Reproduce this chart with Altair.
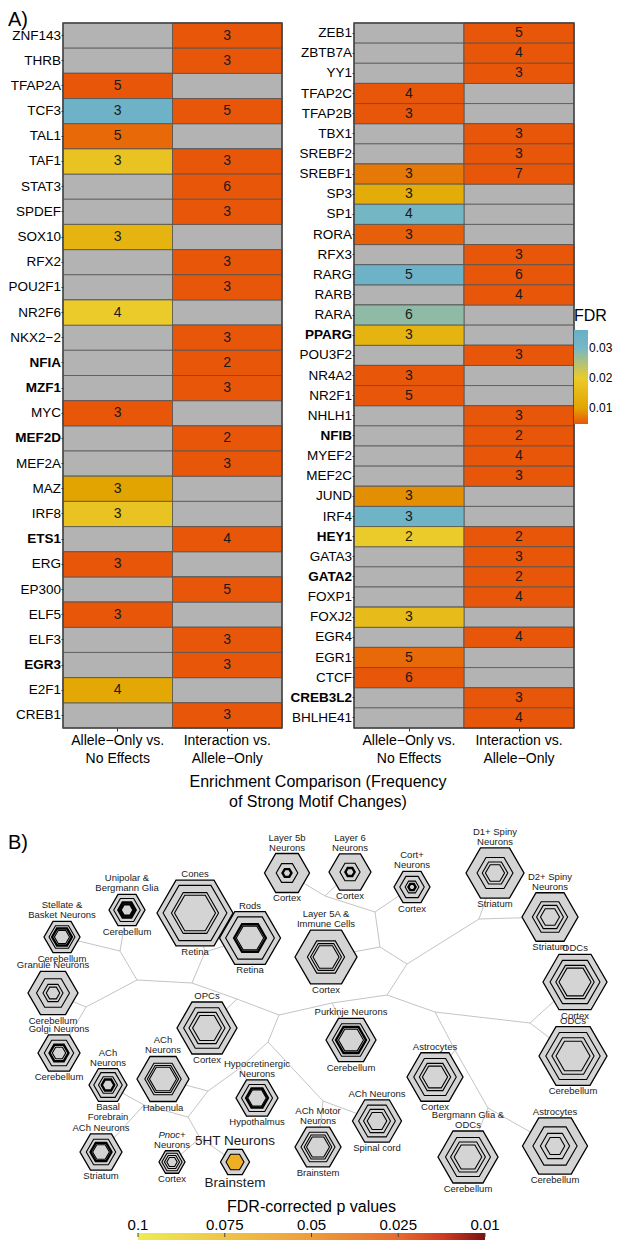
import altair as alt
import pandas as pd

FONT = "Liberation Sans"
M = "\u2212"
_ = None
O = 0.0047

# ---------------- Part A data ----------------
comp_labels = [f"Allele{M}Only vs.|No Effects", f"Interaction vs.|Allele{M}Only"]
x_title = ["Enrichment Comparison (Frequency", "of Strong Motif Changes)"]

left_tfs = ["ZNF143", "THRB", "TFAP2A", "TCF3", "TAL1", "TAF1", "STAT3", "SPDEF", "SOX10", "RFX2",
            "POU2F1", "NR2F6", f"NKX2{M}2", "NFIA", "MZF1", "MYC", "MEF2D", "MEF2A", "MAZ", "IRF8",
            "ETS1", "ERG", "EP300", "ELF5", "ELF3", "EGR3", "E2F1", "CREB1"]
left_a_count = [_, _, 5, 3, 5, 3, _, _, 3, _, _, 4, _, _, _, 3, _, _, 3, 3, _, 3, _, 3, _, _, 4, _]
left_a_fdr = [_, _, O, 0.034, 0.006, 0.018, _, _, 0.014, _, _, 0.020, _, _, _, O, _, _, 0.010, 0.018,
              _, O, _, O, _, _, 0.011, _]
left_b_count = [3, 3, _, 5, _, 3, 6, 3, _, 3, 3, _, 3, 2, 3, _, 2, 3, _, _, 4, _, 5, _, 3, 3, _, 3]
left_b_fdr = [O, O, _, O, _, O, O, O, _, O, O, _, O, O, O, _, O, O, _, _, O, _, O, _, O, O, _, O]

right_tfs = ["ZEB1", "ZBTB7A", "YY1", "TFAP2C", "TFAP2B", "TBX1", "SREBF2", "SREBF1", "SP3", "SP1",
             "RORA", "RFX3", "RARG", "RARB", "RARA", "PPARG", "POU3F2", "NR4A2", "NR2F1", "NHLH1",
             "NFIB", "MYEF2", "MEF2C", "JUND", "IRF4", "HEY1", "GATA3", "GATA2", "FOXP1", "FOXJ2",
             "EGR4", "EGR1", "CTCF", "CREB3L2", "BHLHE41"]
right_a_count = [_, _, _, 4, 3, _, _, 3, 3, 4, 3, _, 5, _, 6, 3, _, 3, 5, _, _, _, _, 3, 3, 2, _, _, _,
                 3, _, 5, 6, _, _]
right_a_fdr = [_, _, _, O, O, _, _, 0.007, 0.012, 0.031, 0.0053, _, 0.034, _, 0.028, 0.014, _, O, O, _,
               _, _, _, 0.0085, 0.033, 0.020, _, _, _, 0.016, _, 0.006, O, _, _]
right_b_count = [5, 4, 3, _, _, 3, 3, 7, _, _, _, 3, 6, 4, _, _, 3, _, _, 3, 2, 4, 3, _, _, 2, 3, 2, 4,
                 _, 4, _, _, 3, 4]
right_b_fdr = [O, O, O, _, _, O, O, O, _, _, _, O, O, O, _, _, O, _, _, O, O, O, O, _, _, O, O, O, O,
               _, O, _, _, O, O]

bold_tfs = ["NFIA", "MZF1", "MEF2D", "ETS1", "EGR3", "PPARG", "NFIB", "HEY1", "GATA2", "CREB3L2"]

fdr_stops = [0.0047, 0.01, 0.02, 0.03, 0.036]
fdr_colors = ["#E8560A", "#E2A400", "#EBCB2A", "#78B7C5", "#67AFC6"]

# ---------------- Part B data ----------------
node_ids = ["st", "un", "co", "ro", "l5b", "l6", "cort", "d1", "d2", "l5a", "gr", "go", "opc", "odc1",
            "odc2", "pk", "achb", "hab", "hyp", "ast1", "achs", "pnoc", "ht", "achm", "achsp", "berg",
            "ast2"]
node_x = [62, 127, 195, 250, 287, 350, 412, 495, 550, 326, 53, 59, 207, 575, 573, 351, 108, 163, 257,
          435, 101, 172, 235, 318, 377, 468, 555]
node_y = [937, 910, 913, 938, 873, 872, 887, 873, 917, 957, 993, 1053, 1028, 982, 1056, 1040, 1085,
          1079, 1098, 1077, 1152, 1162, 1162, 1147, 1121, 1157, 1146]
node_hw = [18, 18, 38, 30.5, 22.5, 21, 18, 29, 28, 31, 25, 21, 30, 32, 34, 25, 19, 26, 21, 28, 21, 13,
           14.5, 23, 24.5, 30, 32.5]
node_top = ["Stellate &\nBasket Neurons", "Unipolar &\nBergmann Glia", "Cones", "Rods",
            "Layer 5b\nNeurons", "Layer 6\nNeurons", "Cort+\nNeurons", "D1+ Spiny\nNeurons",
            "D2+ Spiny\nNeurons", "Layer 5A &\nImmune Cells", "Granule Neurons", "Golgi Neurons",
            "OPCs", "ODCs", "ODCs", "Purkinje Neurons", "ACh\nNeurons", "ACh\nNeurons",
            "Hypocretinergic\nNeurons", "Astrocytes", "ACh Neurons", "Neurons", "5HT Neurons",
            "ACh Motor\nNeurons", "ACh Neurons", "Bergmann Glia &\nODCs", "Astrocytes"]
node_bottom = ["Cerebellum", "Cerebellum", "Retina", "Retina", "Cortex", "Cortex", "Cortex", "Striatum",
               "Striatum", "Cortex", "Cerebellum", "Cerebellum", "Cortex", "Cortex", "Cerebellum",
               "Cerebellum", "Basal\nForebrain", "Habenula", "Hypothalmus", "Cortex", "Striatum",
               "Cortex", "Brainstem", "Brainstem", "Spinal cord", "Cerebellum", "Cerebellum"]
node_fs = [9.5] * 22 + [13.5] + [9.5] * 4
node_rings = [[0.72, 0.55, 0.42], [0.74, 0.48, 0.36], [0.84, 0.62, 0.54], [0.8, 0.52, 0.45],
              [0.48, 0.2], [0.48, 0.22], [0.68, 0.38, 0.2], [0.62, 0.44, 0.33], [0.63, 0.48, 0.34],
              [0.6, 0.5, 0.42], [0.66, 0.4, 0.27], [0.7, 0.45, 0.32], [0.78, 0.6, 0.48],
              [0.78, 0.6, 0.5], [0.8, 0.62, 0.5], [0.75, 0.6, 0.5], [0.75, 0.5, 0.33],
              [0.7, 0.6, 0.52], [0.74, 0.52, 0.44], [0.76, 0.56, 0.45], [0.7, 0.5, 0.4],
              [0.78, 0.58, 0.4], [0.62], [0.74, 0.6, 0.5], [0.75, 0.55, 0.4], [0.75, 0.58, 0.46],
              [0.68, 0.45, 0.3]]
node_ring_bold = [[0, 1, 0], [0, 1, 1], [0, 0, 0], [0, 1, 0], [0, 1], [0, 1], [0, 0, 1], [0, 0, 0],
                  [0, 0, 0], [0, 0, 0], [0, 0, 0], [0, 1, 0], [0, 0, 0], [0, 0, 0], [0, 0, 0], [0, 1, 0],
                  [0, 0, 1], [0, 0, 0], [0, 1, 0], [0, 0, 0], [0, 1, 0], [0, 0, 0], [0], [0, 0, 0],
                  [0, 0, 0], [0, 0, 0], [0, 0, 0]]
italic_ids = ["pnoc"]
italic_text = ["Pnoc+"]
sig_ids = ["ht"]
sig_fdr = [0.06]
sig_frac = [0.62]

inner_ids = ["n1", "n2", "n3", "n4", "n5", "n6", "n7", "n8", "n9", "n10", "n11", "n12", "n13", "n14",
             "n15", "n16", "n17", "n18", "n19", "n20", "n21", "n22", "n23", "n24", "n25"]
inner_x = [120, 137, 86, 192, 205, 237, 279, 332, 387, 407, 380, 375, 325, 479, 435, 530, 455, 488,
           268, 323, 240, 208, 188, 144, 200]
inner_y = [951, 980, 1007, 983, 952, 999, 1015, 1003, 995, 964, 947, 912, 896, 919, 1012, 1023, 1050,
           1108, 1042, 1101, 1068, 1091, 1117, 1105, 1138]
edges = [("n1", "st"), ("n1", "un"), ("n1", "n2"), ("n2", "n3"), ("n3", "gr"), ("n3", "go"),
         ("n2", "n4"), ("n4", "n5"), ("n5", "co"), ("n5", "ro"), ("n4", "n6"), ("n6", "opc"),
         ("n6", "n7"), ("n7", "n8"), ("n8", "pk"), ("n8", "n9"), ("n9", "n10"), ("n10", "n11"),
         ("n11", "l5a"), ("n11", "n12"), ("n12", "cort"), ("n12", "n13"), ("n13", "l5b"),
         ("n13", "l6"), ("n10", "n14"), ("n14", "d1"), ("n14", "d2"), ("n9", "n15"), ("n15", "n16"),
         ("n16", "odc1"), ("n16", "odc2"), ("n15", "n17"), ("n17", "ast1"), ("n17", "n18"),
         ("n18", "berg"), ("n18", "ast2"), ("n7", "n19"), ("n19", "n20"), ("n20", "achm"),
         ("n20", "achsp"), ("n19", "n21"), ("n21", "hyp"), ("n21", "n22"), ("n22", "hab"),
         ("n22", "n23"), ("n23", "n24"), ("n24", "achb"), ("n24", "achs"), ("n23", "n25"),
         ("n25", "pnoc"), ("n25", "ht")]

cb_ticks = ["0.1", "0.075", "0.05", "0.025", "0.01"]
cb_tick_values = [0.1, 0.075, 0.05, 0.025, 0.01]
cb_colors = ["#EDEC55", "#EEC447", "#EE9C3C", "#E86A2C", "#CF3A22", "#7A1212"]
cb_offsets = [0, 0.25, 0.5, 0.75, 0.88, 1]

# ---------------- layout (pixels) ----------------
PADL, PADT = 55, 15
X0 = 8 + PADL            # page x of the plot origin
Y0 = 8 + PADT            # page y of the plot origin
PW = 282 - X0            # left panel width
PH = 705                 # panel height
RX = [354 - X0, 574 - X0]  # right panel x range
BH = 505                 # height of part B region below panels
TOTAL_W, TOTAL_H = 608, 1232
PADR = TOTAL_W - PADL - PW
PADB = TOTAL_H - PADT - PH
LINE = 10                # line height of the small labels in part B

# ---------------- Part A charts ----------------
def panel_df(tfs, a_cnt, a_fdr, b_cnt, b_fdr):
    rows = []
    for i, tf in enumerate(tfs):
        rows.append(dict(tf=tf, comp=comp_labels[0], count=a_cnt[i], fdr=a_fdr[i]))
        rows.append(dict(tf=tf, comp=comp_labels[1], count=b_cnt[i], fdr=b_fdr[i]))
    return pd.DataFrame(rows)


bold_expr = "indexof([" + ",".join("'%s'" % b for b in bold_tfs) + "], datum.value) >= 0 ? 'bold' : 'normal'"
fdr_scale = alt.Scale(domain=fdr_stops, range=fdr_colors, interpolate="rgb")


def heat(df, tfs, legend, xrange=None, yoffset=0):
    xsc = alt.Scale(paddingInner=0, paddingOuter=0)
    if xrange is not None:
        xsc = alt.Scale(paddingInner=0, paddingOuter=0, range=xrange)
    y = alt.Y("tf:N", sort=tfs, title=None, scale=alt.Scale(paddingInner=0, paddingOuter=0),
              axis=alt.Axis(orient="left", offset=yoffset, labelFontSize=13.5,
                            labelFontWeight={"expr": bold_expr}, labelColor="black",
                            tickSize=2, tickColor="#333333", labelPadding=0.5, domain=False,
                            labelFont=FONT))
    x = alt.X("comp:N", sort=comp_labels, title=None, scale=xsc,
              axis=alt.Axis(orient="bottom", labelExpr="split(datum.label, '|')", labelAngle=0,
                            labelFontSize=14, labelLineHeight=18, labelColor="black", tickSize=3,
                            tickColor="#333333", labelPadding=2, domain=False, labelFont=FONT))
    base = alt.Chart(df)
    gray = base.mark_rect(fill="#b3b3b3", stroke="#555555", strokeWidth=0.8).encode(x=x, y=y)
    col = base.transform_filter("isValid(datum.fdr)").mark_rect(
        stroke="#555555", strokeWidth=0.8).encode(
        x=x, y=y, color=alt.Color("fdr:Q", scale=fdr_scale, legend=legend))
    txt = base.transform_filter("isValid(datum.count)").mark_text(
        fontSize=14, font=FONT, color="#1a1a1a").encode(
        x=x, y=y, text=alt.Text("count:Q", format="d"))
    x0 = 0 if xrange is None else xrange[0]
    x1 = PW if xrange is None else xrange[1]
    frame = alt.Chart(pd.DataFrame({"f": [0]})).mark_rect(
        fillOpacity=0, stroke="#444444", strokeWidth=1.5).encode(
        x=alt.value(x0), x2=alt.value(x1), y=alt.value(0), y2=alt.value(PH))
    return alt.layer(gray, col, txt, frame)


left_heat = heat(panel_df(left_tfs, left_a_count, left_a_fdr, left_b_count, left_b_fdr), left_tfs, None)
fdr_legend = alt.Legend(title="FDR", orient="none", legendX=RX[1], legendY=285,
                        direction="vertical", gradientLength=94, gradientThickness=14,
                        values=[0.01, 0.02, 0.03], format=".2f", titleFontSize=16,
                        titleFontWeight="normal", titleColor="black", labelFontSize=12,
                        labelColor="black", labelOffset=1, titlePadding=6, gradientStrokeWidth=0,
                        titleFont=FONT, labelFont=FONT, padding=0)
right_heat = heat(panel_df(right_tfs, right_a_count, right_a_fdr, right_b_count, right_b_fdr),
                  right_tfs, fdr_legend, xrange=RX, yoffset=-RX[0])

tagA = alt.Chart(pd.DataFrame({"t": ["A)"]})).mark_text(
    align="left", baseline="top", fontSize=20, font=FONT, color="black").encode(
    x=alt.value(-PADL), y=alt.value(-PADT + 2), text="t:N")
xtitle = alt.Chart(pd.DataFrame({"t": ["\n".join(x_title)]})).mark_text(
    align="center", baseline="top", fontSize=16, lineHeight=20, lineBreak="\n", font=FONT,
    color="black").encode(x=alt.value(318 - X0), y=alt.value(PH + 46), text="t:N")

# ---------------- Part B ----------------
HEX = "M-1,0L-0.5,-0.866L0.5,-0.866L1,0L0.5,0.866L-0.5,0.866Z"
xs = alt.Scale(domain=[X0, X0 + 554], range=[0, 554], nice=False, zero=False)
ys = alt.Scale(domain=[Y0 + PH, Y0 + PH + BH], range=[PH, PH + BH], nice=False, zero=False)
pos = {}
for i, n in enumerate(node_ids):
    pos[n] = (node_x[i], node_y[i])
for i, n in enumerate(inner_ids):
    pos[n] = (inner_x[i], inner_y[i])

edge_df = pd.DataFrame([dict(x=pos[a][0], y=pos[a][1], x2=pos[b][0], y2=pos[b][1]) for a, b in edges])
node_df = pd.DataFrame(dict(id=node_ids, x=node_x, y=node_y, hw=node_hw, top=node_top,
                            bottom=node_bottom, fs=node_fs))
node_df["s"] = (2 * node_df["hw"]) ** 2
node_df["nl"] = node_df["top"].str.count("\n")
node_df["ytop"] = node_df["y"] - 0.866 * node_df["hw"] - 1 - LINE * node_df["nl"]
node_df["ybot"] = node_df["y"] + 0.866 * node_df["hw"] + 1

ring_rows = []
for i, n in enumerate(node_ids):
    for f, b in zip(node_rings[i], node_ring_bold[i]):
        ring_rows.append(dict(x=node_x[i], y=node_y[i], s=(2 * node_hw[i] * f) ** 2,
                              sw=2.4 if b else 1.1))
ring_df = pd.DataFrame(ring_rows)

sig_rows = []
for n, p, f in zip(sig_ids, sig_fdr, sig_frac):
    i = node_ids.index(n)
    sig_rows.append(dict(x=node_x[i], y=node_y[i], s=(2 * node_hw[i] * f) ** 2, p=p))
sig_df = pd.DataFrame(sig_rows)

ital_rows = []
for n, t in zip(italic_ids, italic_text):
    i = node_ids.index(n)
    ital_rows.append(dict(x=node_x[i], y=node_y[i] - 0.866 * node_hw[i] - 1 - LINE, t=t))
ital_df = pd.DataFrame(ital_rows)

X = alt.X("x:Q", scale=xs, axis=None)
Y = alt.Y("y:Q", scale=ys, axis=None)

edge_layer = alt.Chart(edge_df).mark_rule(color="#c4c4c4", strokeWidth=1).encode(
    x=X, y=Y, x2="x2:Q", y2="y2:Q")
outer_layer = alt.Chart(node_df).mark_point(
    shape=HEX, filled=True, fill="#d4d4d4", stroke="black", strokeWidth=1.3, opacity=1,
    fillOpacity=1).encode(x=X, y=Y, size=alt.Size("s:Q", scale=None))
sig_scale = alt.Scale(domain=cb_tick_values, range=["#EDEC55", "#EEC447", "#F0A000", "#E86A2C",
                                                    "#7A1212"])
sig_layer = alt.Chart(sig_df).mark_point(shape=HEX, filled=True, opacity=1, strokeWidth=0).encode(
    x=X, y=Y, size=alt.Size("s:Q", scale=None),
    color=alt.Color("p:Q", scale=sig_scale, legend=None))
ring_layer = alt.Chart(ring_df).mark_point(shape=HEX, filled=False, color="black", opacity=1).encode(
    x=X, y=Y, size=alt.Size("s:Q", scale=None), strokeWidth=alt.StrokeWidth("sw:Q", scale=None))
top_layer = alt.Chart(node_df).mark_text(
    baseline="bottom", lineBreak="\n", lineHeight=LINE, font=FONT, color="#1a1a1a").encode(
    x=X, y=alt.Y("ytop:Q", scale=ys, axis=None), text="top:N", size=alt.Size("fs:Q", scale=None))
bot_layer = alt.Chart(node_df).mark_text(
    baseline="top", lineBreak="\n", lineHeight=LINE, font=FONT, color="#1a1a1a").encode(
    x=X, y=alt.Y("ybot:Q", scale=ys, axis=None), text="bottom:N",
    size=alt.Size("fs:Q", scale=None))
ital_layer = alt.Chart(ital_df).mark_text(
    baseline="bottom", fontSize=9.5, fontStyle="italic", font=FONT, color="#1a1a1a").encode(
    x=X, y=Y, text="t:N")
tagB = alt.Chart(pd.DataFrame({"t": ["B)"]})).mark_text(
    align="left", baseline="middle", fontSize=20, font=FONT, color="black").encode(
    x=alt.value(-PADL), y=alt.value(843 - Y0), text="t:N")

partB = alt.layer(edge_layer, outer_layer, sig_layer, ring_layer, top_layer, bot_layer, ital_layer,
                  tagB).resolve_scale(size="independent")

# ---------------- Colour bar ----------------
cb_df = pd.DataFrame(dict(i=list(range(len(cb_ticks))), lab=cb_ticks))
cbx = alt.Scale(domain=[0, len(cb_ticks) - 1], range=[138 - X0, 485 - X0], nice=False, zero=False)
grad = {"gradient": "linear", "x1": 0, "x2": 1, "y1": 0, "y2": 0,
        "stops": [{"offset": o, "color": c} for o, c in zip(cb_offsets, cb_colors)]}
CBY = PH + BH
bar = alt.Chart(pd.DataFrame({"lo": [0], "hi": [len(cb_ticks) - 1]})).mark_rect(fill=grad).encode(
    x=alt.X("lo:Q", scale=cbx, axis=None), x2="hi:Q", y=alt.value(CBY), y2=alt.value(CBY + 8))
cb_tick = alt.Chart(cb_df).mark_rule(color="#444444", strokeWidth=1).encode(
    x=alt.X("i:Q", scale=cbx, axis=None), y=alt.value(CBY), y2=alt.value(CBY + 4))
cb_lab = alt.Chart(cb_df).mark_text(fontSize=15, baseline="middle", font=FONT, color="black").encode(
    x=alt.X("i:Q", scale=cbx, axis=None), y=alt.value(CBY - 8), text="lab:N")
cb_title = alt.Chart(pd.DataFrame({"i": [(len(cb_ticks) - 1) / 2], "t": ["FDR-corrected p values"]})
                     ).mark_text(fontSize=16, baseline="middle", font=FONT, color="black").encode(
    x=alt.X("i:Q", scale=cbx, axis=None), y=alt.value(CBY - 26), text="t:N")
cbar = alt.layer(bar, cb_tick, cb_lab, cb_title)

chart = alt.layer(
    left_heat, right_heat, partB, cbar, tagA, xtitle
).resolve_scale(
    x="independent", y="independent", color="independent", size="independent"
).properties(
    width=PW, height=PH,
    autosize=alt.AutoSizeParams(type="none"),
    padding={"left": PADL, "top": PADT, "right": PADR, "bottom": PADB},
).configure(font=FONT).configure_view(stroke=None)

chart.save("out.html", embed_options={"renderer": "svg", "actions": False})
